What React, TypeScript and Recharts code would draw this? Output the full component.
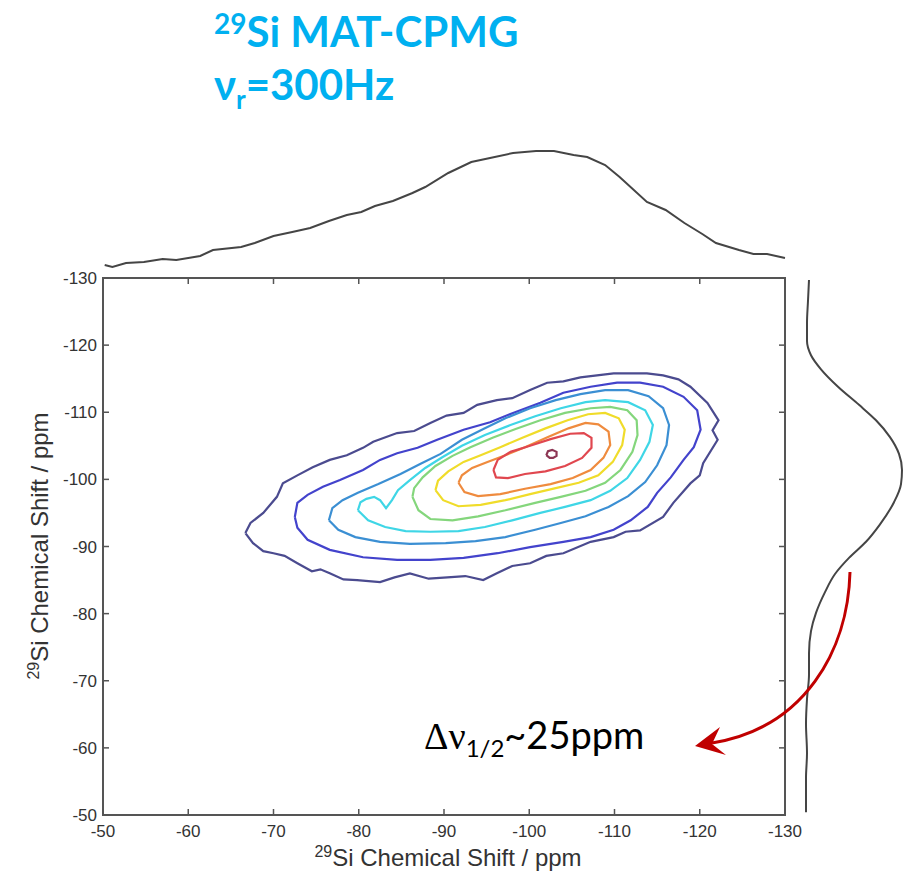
import React from 'react';
import { ScatterChart, Scatter, XAxis, YAxis, ReferenceArea } from 'recharts';

const SHIFT_TICKS = [-50, -60, -70, -80, -90, -100, -110, -120, -130];

// contour levels, outermost first, as [F2 ppm, F1 ppm]
const level1 = [
  [-66.7, -92.0], [-67.3, -93.5], [-68.8, -95.0], [-70.4, -97.4], [-71.1, -99.4], [-72.8, -100.6],
  [-74.6, -101.8], [-76.6, -102.9], [-78.6, -103.6], [-80.5, -104.7], [-81.7, -105.6], [-84.5, -106.9],
  [-86.5, -107.2], [-88.4, -108.4], [-90.3, -109.5], [-92.3, -109.9], [-93.9, -111.1], [-96.2, -111.8],
  [-98.0, -112.1], [-100.1, -113.3], [-102.1, -114.4], [-104.0, -114.6], [-106.0, -115.2], [-109.9, -115.8],
  [-113.8, -115.8], [-115.7, -115.5], [-117.5, -114.9], [-118.9, -113.8], [-120.9, -111.4], [-122.2, -108.8],
  [-121.5, -107.3], [-122.1, -105.9], [-120.4, -102.4], [-120.0, -100.6], [-118.9, -99.4], [-116.9, -96.5],
  [-115.7, -94.4], [-113.0, -92.4], [-111.3, -92.2], [-109.9, -91.4], [-107.2, -90.7], [-104.0, -89.0],
  [-102.0, -88.6], [-100.1, -87.5], [-98.0, -87.1], [-96.2, -86.0], [-94.6, -85.0], [-92.5, -85.6],
  [-90.4, -85.4], [-88.2, -85.2], [-86.0, -86.0], [-84.2, -85.4], [-82.5, -84.7], [-79.8, -85.0],
  [-78.2, -85.1], [-76.6, -86.0], [-75.5, -86.6], [-74.5, -86.3], [-72.8, -87.5], [-71.3, -88.6],
  [-70.0, -89.0], [-68.8, -89.3], [-67.6, -90.5],
];
const level2 = [
  [-72.5, -94.4], [-72.8, -96.5], [-74.0, -97.7], [-75.8, -98.9], [-77.8, -99.9], [-80.5, -101.4],
  [-82.5, -102.9], [-84.5, -103.9], [-86.9, -104.7], [-89.2, -105.9], [-92.3, -107.4], [-95.4, -108.5],
  [-98.1, -109.9], [-101.3, -111.4], [-104.0, -112.9], [-107.2, -113.8], [-110.3, -114.4], [-113.0, -114.4],
  [-115.7, -113.8], [-118.1, -112.3], [-119.7, -110.3], [-120.1, -107.4], [-119.3, -104.8], [-118.1, -102.9],
  [-116.6, -100.3], [-115.0, -98.0], [-113.9, -95.9], [-111.9, -93.9], [-109.9, -92.5], [-107.2, -91.4],
  [-104.0, -90.7], [-100.1, -89.9], [-96.3, -89.0], [-92.3, -88.3], [-88.4, -88.0], [-84.5, -88.0],
  [-80.5, -88.4], [-76.6, -89.5], [-74.0, -91.0], [-72.8, -92.8],
];
const level3 = [
  [-76.5, -93.9], [-76.9, -95.7], [-78.1, -96.9], [-79.9, -98.0], [-82.3, -99.3], [-84.9, -100.8],
  [-87.2, -102.3], [-89.6, -103.8], [-92.1, -105.9], [-94.8, -107.6], [-97.2, -109.1], [-100.1, -110.6],
  [-103.1, -111.8], [-106.0, -112.7], [-108.9, -113.3], [-111.6, -113.3], [-114.0, -112.4], [-115.7, -110.6],
  [-116.4, -108.1], [-116.1, -105.1], [-115.0, -102.1], [-113.6, -99.6], [-111.6, -97.5], [-109.3, -95.9],
  [-106.6, -94.5], [-103.7, -93.5], [-100.7, -92.5], [-97.2, -91.4], [-93.7, -90.8], [-90.2, -90.5],
  [-86.0, -90.4], [-82.5, -90.7], [-79.6, -91.4], [-77.6, -92.5],
];
const level4 = [
  [-79.9, -95.4], [-80.2, -96.6], [-80.9, -97.1], [-81.8, -97.4], [-82.5, -96.9], [-83.2, -95.7],
  [-83.9, -96.9], [-84.6, -98.4], [-86.0, -99.9], [-87.8, -101.7], [-89.8, -103.3], [-92.1, -105.0],
  [-94.8, -106.6], [-97.8, -108.1], [-100.7, -109.4], [-103.7, -110.6], [-106.6, -111.5], [-108.9, -111.8],
  [-111.6, -111.5], [-113.6, -110.3], [-114.5, -108.1], [-114.1, -105.6], [-113.0, -102.9], [-111.5, -100.2],
  [-109.5, -98.3], [-107.2, -96.9], [-104.2, -95.9], [-101.3, -95.0], [-98.0, -93.9], [-94.8, -92.9],
  [-91.7, -92.3], [-88.4, -92.2], [-85.5, -92.3], [-83.1, -92.9], [-81.1, -93.9],
];
const level5 = [
  [-86.3, -97.4], [-86.5, -98.7], [-87.5, -100.3], [-89.0, -102.0], [-91.0, -103.5], [-93.1, -104.8],
  [-95.7, -106.2], [-98.4, -107.5], [-101.3, -108.8], [-104.2, -109.9], [-107.2, -110.6], [-109.5, -110.8],
  [-111.5, -110.3], [-112.6, -108.8], [-112.7, -106.6], [-112.1, -104.1], [-110.7, -101.4], [-108.9, -99.5],
  [-106.6, -98.3], [-103.7, -97.4], [-100.7, -96.5], [-97.2, -95.4], [-94.0, -94.5], [-91.0, -93.9],
  [-88.4, -94.1], [-87.0, -95.4],
];
const level6 = [
  [-89.0, -98.4], [-89.3, -99.8], [-90.5, -101.2], [-92.3, -102.6], [-94.3, -103.6], [-96.6, -104.8],
  [-99.2, -106.2], [-101.9, -107.6], [-104.5, -108.8], [-106.9, -109.7], [-108.9, -109.9], [-110.5, -109.1],
  [-111.2, -107.4], [-110.9, -105.1], [-109.8, -102.6], [-108.1, -100.6], [-105.8, -99.5], [-103.1, -98.7],
  [-100.1, -97.8], [-97.2, -96.9], [-94.3, -96.2], [-91.7, -96.0], [-89.9, -96.9],
];
const level7 = [
  [-91.7, -99.5], [-92.1, -100.6], [-93.3, -101.7], [-95.1, -102.6], [-97.2, -103.6], [-99.5, -104.8],
  [-102.2, -106.3], [-104.6, -107.6], [-106.6, -108.4], [-108.1, -108.2], [-109.3, -107.1], [-109.5, -105.1],
  [-108.7, -103.2], [-107.2, -101.4], [-105.1, -100.2], [-102.5, -99.3], [-99.5, -98.6], [-96.6, -97.8],
  [-94.0, -97.5], [-92.4, -98.1],
];
const level8 = [
  [-95.8, -101.4], [-96.3, -102.9], [-97.8, -104.1], [-100.1, -105.0], [-102.5, -106.0], [-104.8, -106.8],
  [-106.4, -106.9], [-107.3, -106.2], [-107.3, -104.7], [-106.2, -103.2], [-104.2, -102.0], [-101.9, -101.2],
  [-99.5, -100.8], [-97.5, -100.2], [-96.1, -100.3],
];
const level9 = [
  [-102.0, -103.6], [-102.2, -104.2], [-102.7, -104.4], [-103.2, -104.1], [-103.2, -103.5], [-102.8, -103.2],
  [-102.4, -103.2],
];

const LEVEL_COLORS = ['#4b4b8f', '#4343cc', '#3b8fd3', '#3fd6e6', '#84d67c', '#f0dc2a', '#ef8b3e', '#e0474f', '#8c3553'];
const LEVELS = [level1, level2, level3, level4, level5, level6, level7, level8, level9];

// F2 projection (top)
const topShift = [
  -50.2, -51.1, -52.7, -54.8, -57.0, -58.6, -61.4, -62.9, -66.2, -67.8, -70.0, -72.2, -74.3, -76.5,
  -78.6, -80.3, -81.9, -84.0, -86.3, -87.8, -90.5, -93.2, -95.4, -98.1, -100.8, -102.9, -105.2, -106.8,
  -108.9, -110.6, -113.8, -116.0, -118.2, -120.3, -121.9, -124.6, -126.3, -127.9, -130.0,
];
const topIntensity = [
  5, 3, 7, 8, 11, 10, 14, 20, 23, 27, 34, 38, 42, 49, 55, 58, 64, 69, 77, 83, 97, 108, 112, 117, 119,
  119, 115, 113, 105, 93, 68, 60, 47, 36, 27, 20, 16, 16, 12,
];

// F1 projection (right)
const sideShift = [
  -129.7, -126.6, -123.3, -120.6, -118.5, -116.4, -113.8, -111.1, -108.8, -106.3, -103.8, -101.4, -99.3,
  -96.6, -93.3, -90.7, -88.3, -85.9, -83.2, -80.1, -77.4, -74.1, -70.9, -67.3, -63.6, -59.2, -55.5, -50.4,
];
const sideIntensity = [
  4, 3, 2, 2, 6, 16, 33, 54, 71, 85, 94, 97, 96, 89, 75, 61, 44, 30, 20, 11, 6, 4, 4, 2, 1, 2, 1, 1,
];

const AXIS = '#555';
const TICK_FONT = "'Liberation Sans', Arial, sans-serif";
const TITLE_FONT = "Lato, 'Open Sans', sans-serif";
const PLOT_W = 682;
const PLOT_H = 537;

const closed = (pts: number[][]) => [...pts, pts[0]].map(([x, y]) => ({ x, y }));
const noDot = () => <g />;

// matlab-style box: ticks point inward on all four sides
const BottomTick = ({ x, y, payload }: any) => (
  <g>
    <line x1={x} x2={x} y1={y} y2={y - 6} stroke={AXIS} strokeWidth={1.5} />
    <line x1={x} x2={x} y1={y - PLOT_H} y2={y - PLOT_H + 6} stroke={AXIS} strokeWidth={1.5} />
    <text x={x} y={y + 22} textAnchor="middle" fontSize={17} fill="#333" fontFamily={TICK_FONT}>
      {payload.value}
    </text>
  </g>
);
const LeftTick = ({ x, y, payload }: any) => (
  <g>
    <line x1={x} x2={x + 6} y1={y} y2={y} stroke={AXIS} strokeWidth={1.5} />
    <line x1={x + PLOT_W} x2={x + PLOT_W - 6} y1={y} y2={y} stroke={AXIS} strokeWidth={1.5} />
    <text x={x - 6} y={y + 6} textAnchor="end" fontSize={17} fill="#333" fontFamily={TICK_FONT}>
      {payload.value}
    </text>
  </g>
);

export default function App() {
  const topData = topShift.map((s, i) => ({ x: s, y: topIntensity[i] }));
  const sideData = sideShift.map((s, i) => ({ x: sideIntensity[i], y: s }));

  return (
    <div style={{ position: 'absolute', left: 0, top: 0, width: 912, height: 877, background: '#fff' }}>
      {/* 2D contour plot */}
      <div style={{ position: 'absolute', left: 0, top: 0 }}>
        <ScatterChart width={912} height={877} margin={{ top: 278, right: 127, bottom: 22, left: 0 }}>
          <XAxis
            type="number" dataKey="x" domain={[-130, -50]} reversed ticks={SHIFT_TICKS} interval={0}
            height={40} tickSize={0} tickMargin={0} tickLine={false} tick={<BottomTick />}
            axisLine={{ stroke: AXIS, strokeWidth: 2 }}
          />
          <YAxis
            type="number" dataKey="y" domain={[-130, -50]} reversed ticks={SHIFT_TICKS} interval={0}
            width={103} tickSize={0} tickMargin={0} tickLine={false} tick={<LeftTick />}
            axisLine={{ stroke: AXIS, strokeWidth: 2 }}
          />
          {/* plot frame */}
          <ReferenceArea
            x1={-50} x2={-130} y1={-50} y2={-130}
            fill="none" fillOpacity={0} stroke={AXIS} strokeWidth={2} ifOverflow="visible"
          />
          {LEVELS.map((lvl, i) => (
            <Scatter
              key={i}
              data={closed(lvl)}
              fill={LEVEL_COLORS[i]}
              line={{ stroke: LEVEL_COLORS[i], strokeWidth: 2.2 }}
              lineJointType="linear"
              shape={noDot}
              isAnimationActive={false}
            />
          ))}
        </ScatterChart>
      </div>

      {/* top projection */}
      <div style={{ position: 'absolute', left: 0, top: 0 }}>
        <ScatterChart width={912} height={278} margin={{ top: 140, right: 127, bottom: 0, left: 103 }}>
          <XAxis type="number" dataKey="x" domain={[-130, -50]} reversed hide />
          <YAxis type="number" dataKey="y" domain={[-8, 130]} hide />
          <Scatter
            data={topData}
            fill="#444"
            line={{ stroke: '#454545', strokeWidth: 2 }}
            lineJointType="linear"
            shape={noDot}
            isAnimationActive={false}
          />
        </ScatterChart>
      </div>

      {/* side projection */}
      <div style={{ position: 'absolute', left: 0, top: 0 }}>
        <ScatterChart width={912} height={877} margin={{ top: 278, right: 7, bottom: 62, left: 805 }}>
          <XAxis type="number" dataKey="x" domain={[0, 100]} hide />
          <YAxis type="number" dataKey="y" domain={[-130, -50]} reversed hide />
          <Scatter
            data={sideData}
            fill="#444"
            line={{ stroke: '#454545', strokeWidth: 2 }}
            lineJointType="monotoneY"
            shape={noDot}
            isAnimationActive={false}
          />
        </ScatterChart>
      </div>

      {/* titles and annotation */}
      <svg width={912} height={877} style={{ position: 'absolute', left: 0, top: 0, pointerEvents: 'none' }}>
        <text x={214} y={47} fontFamily={TITLE_FONT} fontWeight="bold" fontSize={42} fill="#00b0f0">
          <tspan fontSize={28} dy={-13}>29</tspan>
          <tspan dy={13}>Si MAT-CPMG</tspan>
        </text>
        <text x={214} y={100} fontFamily={TITLE_FONT} fontWeight="bold" fontSize={42} fill="#00b0f0">
          <tspan>ν</tspan>
          <tspan fontSize={26} dy={9}>r</tspan>
          <tspan dy={-9}>=300Hz</tspan>
        </text>

        <text x={448} y={866} textAnchor="middle" fontFamily={TICK_FONT} fontSize={24} fill="#333">
          <tspan fontSize={16} dy={-9}>29</tspan>
          <tspan dy={9}>Si Chemical Shift / ppm</tspan>
        </text>
        <text
          x={0} y={0} transform="translate(48,546) rotate(-90)" textAnchor="middle"
          fontFamily={TICK_FONT} fontSize={24} fill="#333"
        >
          <tspan fontSize={16} dy={-9}>29</tspan>
          <tspan dy={9}>Si Chemical Shift / ppm</tspan>
        </text>

        <path d="M 850 572 C 848 650, 805 728, 712 743" fill="none" stroke="#c00000" strokeWidth={3} />
        <path d="M 695 746 L 720 727 L 712 744 L 726 755 Z" fill="#c00000" />
        <text x={424} y={749} fontFamily="Lato, sans-serif" fontSize={38} fill="#000">
          <tspan fontFamily="'Liberation Serif', serif">Δν</tspan>
          <tspan fontSize={24} dy={8}>1/2</tspan>
          <tspan dy={-8}>~25ppm</tspan>
        </text>
      </svg>
    </div>
  );
}
